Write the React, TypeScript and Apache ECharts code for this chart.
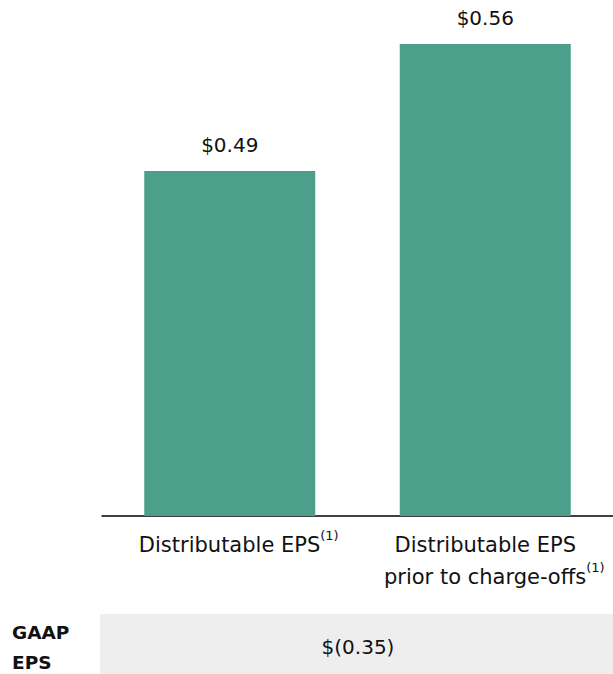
import React, { useEffect, useRef } from "react";
import * as echarts from "echarts";

const categories = ["Distributable EPS", "Distributable EPS\nprior to charge-offs"];
const epsValues = [0.49, 0.56];
const footnoteMark = "(1)";
const gaapLabel = ["GAAP", "EPS"];
const gaapValue = [-0.35];

const FONT = "'DejaVu Sans', sans-serif";
const BAR = "#4C9F8B";

function fmtMoney(v: number): string {
  const s = Math.abs(v).toFixed(2);
  return v < 0 ? `$(${s})` : `$${s}`;
}

export default function App() {
  const ref = useRef<HTMLDivElement>(null);
  useEffect(() => {
    if (!ref.current) return;
    const chart = echarts.init(ref.current, undefined, { renderer: "svg" });
    chart.setOption({
      animation: false,
      backgroundColor: "#ffffff",
      grid: { left: 102, right: -4, top: 44, bottom: 158, containLabel: false },
      xAxis: {
        type: "category",
        data: categories,
        axisLine: { show: true, lineStyle: { color: "#000000", width: 1.5 } },
        axisTick: { show: false },
        axisLabel: {
          interval: 0,
          margin: 13,
          color: "#111111",
          fontFamily: FONT,
          fontSize: 21,
          lineHeight: 32,
          formatter: (v: string) => {
            const lines = v.split("\n");
            return lines
              .map((l, i) =>
                i === lines.length - 1 ? `{a|${l}}{sup|${footnoteMark}}` : `{n|${l}}`
              )
              .join("\n");
          },
          rich: {
            n: { fontFamily: FONT, fontSize: 21, lineHeight: 32, color: "#111111", align: "center" },
            a: {
              fontFamily: FONT,
              fontSize: 21,
              lineHeight: 32,
              color: "#111111",
              align: "center",
              padding: [0, 0, 0, 18],
            },
            sup: {
              fontFamily: FONT,
              fontSize: 13,
              lineHeight: 12,
              color: "#111111",
              verticalAlign: "top",
              align: "center",
            },
          },
        },
      },
      yAxis: {
        type: "value",
        min: 0.3,
        max: 0.56,
        show: false,
        splitLine: { show: false },
      },
      series: [
        {
          type: "bar",
          data: epsValues,
          barWidth: 171,
          itemStyle: { color: BAR },
          label: {
            show: true,
            position: "top",
            distance: 16,
            color: "#111111",
            fontFamily: FONT,
            fontSize: 20,
            formatter: (p: any) => fmtMoney(p.value),
          },
        },
      ],
      graphic: [
        {
          type: "rect",
          shape: { x: 100, y: 614, width: 513, height: 60 },
          style: { fill: "#EEEEEE" },
          silent: true,
        },
        {
          type: "text",
          x: 358,
          y: 647,
          style: {
            text: fmtMoney(gaapValue[0]),
            fontFamily: FONT,
            fontSize: 20,
            fill: "#111111",
            align: "center",
            verticalAlign: "middle",
          },
        },
        {
          type: "text",
          x: 12,
          y: 632,
          style: {
            text: gaapLabel[0],
            fontFamily: FONT,
            fontSize: 18.5,
            fontWeight: "bold",
            fill: "#111111",
            align: "left",
            verticalAlign: "middle",
          },
        },
        {
          type: "text",
          x: 12,
          y: 662,
          style: {
            text: gaapLabel[1],
            fontFamily: FONT,
            fontSize: 18.5,
            fontWeight: "bold",
            fill: "#111111",
            align: "left",
            verticalAlign: "middle",
          },
        },
      ],
    });
    return () => chart.dispose();
  }, []);
  return (
    <div
      ref={ref}
      style={{ position: "fixed", left: 0, top: 0, width: 613, height: 674 }}
    />
  );
}
